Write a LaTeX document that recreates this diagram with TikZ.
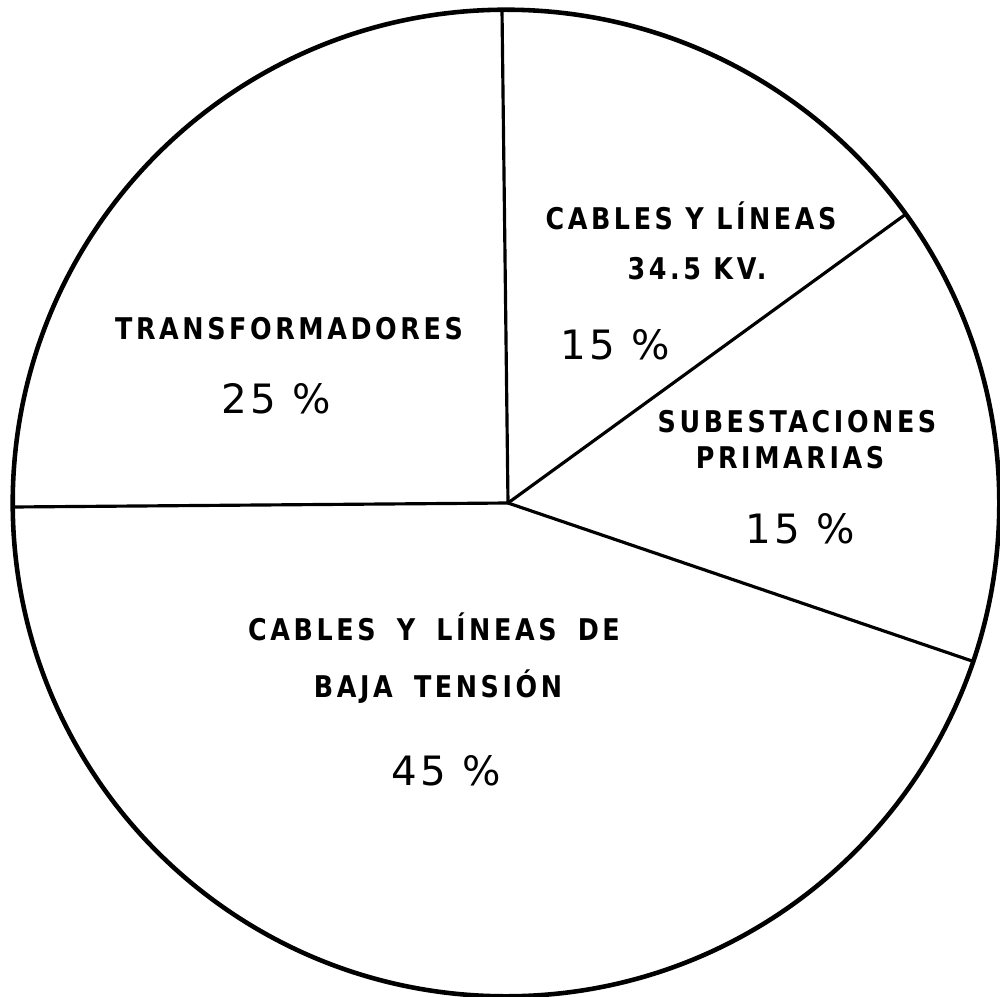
\documentclass[tikz,border=0pt]{standalone}
\usepackage{fontspec}
\newfontfamily\lblfont[LetterSpace=12,FakeStretch=0.85]{DejaVu Sans Bold}
\newfontfamily\pctfont[LetterSpace=8]{DejaVu Sans}
\newcommand\wgap{\ \hspace{2.5pt}}
\tikzset{
  rim/.style={line width=1.3pt},
  radial/.style={line width=0.9pt},
  lbl/.style={anchor=base, inner sep=0pt, font=\lblfont\fontsize{8.5}{10}\selectfont},
  pct/.style={anchor=base, inner sep=0pt, font=\pctfont\fontsize{11.5}{13}\selectfont}
}
\begin{document}
\begin{tikzpicture}[x=0.01cm,y=-0.01cm]
\useasboundingbox (0,0) rectangle (1000,997);
\coordinate (o) at (506,503);
\coordinate (c) at (508,503);
\draw[rim] (o) circle[radius=4.93cm];
\coordinate (e1) at (502,10);
\coordinate (e2) at (906,214);
\coordinate (e3) at (975,662);
\coordinate (e4) at (13,507);
\draw[radial] (c) -- (e1);
\draw[radial] (c) -- (e2);
\draw[radial] (c) -- (e3);
\draw[radial] (c) -- (e4);
\node[lbl] (t1) at (289,340) {TRANSFORMADORES};
\node[pct] (p1) at (276,413) {25 \%};
\node[lbl] (t2) at (691,230) {CABLES Y LÍNEAS};
\node[lbl] (t2b) at (697,280) {34.5 KV.};
\node[pct] (p2) at (615,360) {15 \%};
\node[lbl] (t3) at (797,432) {SUBESTACIONES};
\node[lbl] (t3b) at (790,468) {PRIMARIAS};
\node[pct] (p3) at (800,543) {15 \%};
\node[lbl] (t4) at (434,640) {CABLES\wgap Y\wgap LÍNEAS\wgap DE};
\node[lbl] (t4b) at (438,697) {BAJA\wgap TENSIÓN};
\node[pct] (p4) at (446,785) {45 \%};
\end{tikzpicture}
\end{document}
